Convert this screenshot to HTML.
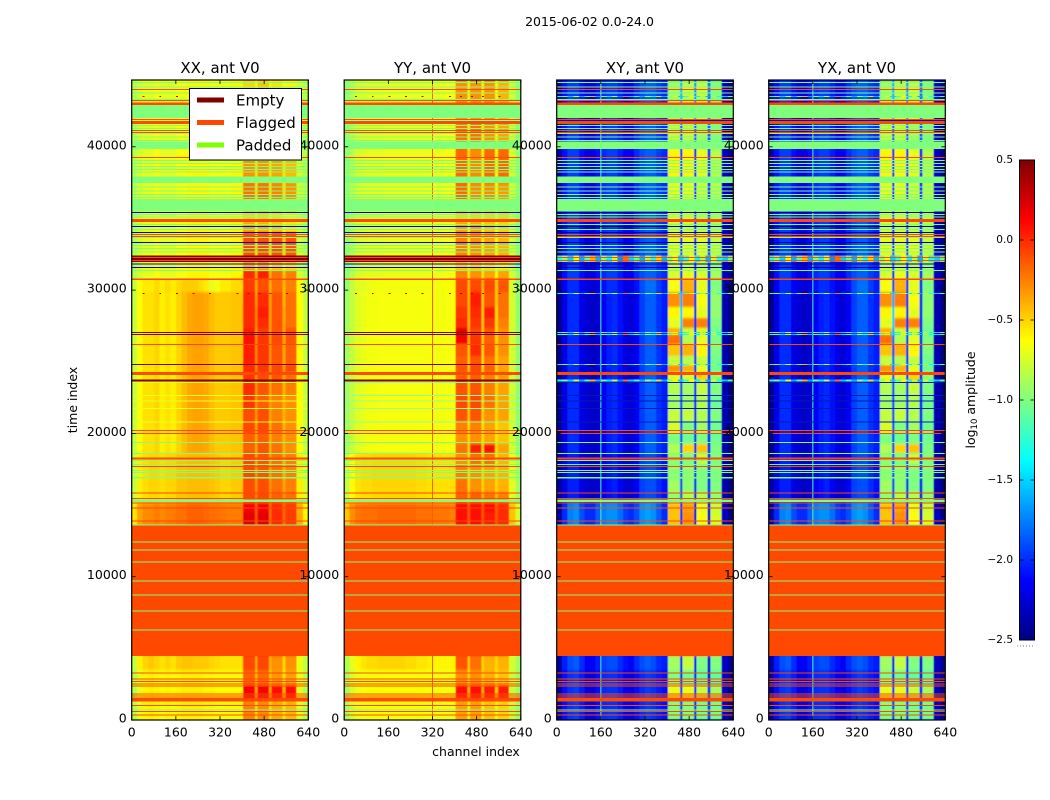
<!DOCTYPE html>
<html lang="en">
<head>
<meta charset="utf-8">
<title>2015-06-02 waterfall amplitude</title>
<style>
  html, body { margin: 0; padding: 0; background: #fff; }
  svg { display: block; }
  text { font-family: "DejaVu Sans", "Liberation Sans", sans-serif; fill: #000; }
</style>
</head>
<body>
<svg id="figure" xmlns="http://www.w3.org/2000/svg" width="1050" height="800" viewBox="0 0 1050 800">
  <defs>
    <filter id="soften" x="-5%" y="-5%" width="110%" height="110%">
      <feGaussianBlur stdDeviation="0.6 1.1"/>
    </filter>
  </defs>
  <rect width="1050" height="800" fill="#fff"/>
  <text x="589.5" y="26" font-size="12.5" text-anchor="middle">2015-06-02 0.0-24.0</text>
  <text x="476" y="756" font-size="12.5" text-anchor="middle">channel index</text>
  <text transform="translate(77 400) rotate(-90)" font-size="12.5" text-anchor="middle">time index</text>
  <g id="panels"></g>
  <g id="colorbar"></g>
  <text transform="translate(975 400) rotate(-90)" font-size="12.5" text-anchor="middle">log<tspan font-size="8.5" dy="2">10</tspan><tspan dy="-2"> amplitude</tspan></text>
  <line x1="1017" x2="1035" y1="646" y2="646" stroke="#777" stroke-width="1" stroke-dasharray="1 2"/>
  <g>
    <rect x="189.5" y="88.5" width="112" height="71.5" fill="#fff" stroke="#000" stroke-width="1"/>
    <line x1="197" x2="224" y1="100" y2="100" stroke="#800000" stroke-width="5"/>
    <text x="236" y="105.5" font-size="15">Empty</text>
    <line x1="197" x2="224" y1="122.5" y2="122.5" stroke="#ff4500" stroke-width="5"/>
    <text x="236" y="128" font-size="15">Flagged</text>
    <line x1="197" x2="224" y1="145" y2="145" stroke="#7fff00" stroke-width="5"/>
    <text x="236" y="150.5" font-size="15">Padded</text>
  </g>
</svg>
<script>
const xTickLabels = [0, 160, 320, 480, 640];
const yTickLabels = [0, 10000, 20000, 30000, 40000];
const colorbarTicks = [0.5, 0, -0.5, -1, -1.5, -2, -2.5];
const panelTitles = ['XX, ant V0', 'YY, ant V0', 'XY, ant V0', 'YX, ant V0'];

/* channel bin edges of the heatmap columns */
const channelEdges = [0,20,40,60,80,100,120,140,160,180,200,220,240,260,280,300,320,340,360,380,404,446,455,497,507,547,557,597,620,640];

/* time bin edges of the heatmap rows, top to bottom */
const timeEdges = [44660,43067,41600,40344,39856,37900,37483,36345,35458,34760,34062,32387,31968,31410,30782,29874,28827,28060,27362,26873,26245,25407,24779,24290,23523,22685,21778,20870,20033,19265,18637,17799,16752,15914,15147,14518,13576,4467,3490,2443,1396,0];

/* which broadband profile each time row uses */
const rowProfile = [0,0,0,0,0,0,0,0,0,0,0,0,0,0,1,2,2,2,2,2,2,2,2,2,2,2,2,2,2,2,3,3,3,3,4,4,5,5,6,6,6];

/* log10 amplitude: broadband profiles, 20 columns up to channel 404 then 2 columns above 597 */
const xxProfiles = [
  [-0.85,-0.75,-0.7,-0.7,-0.65,-0.7,-0.7,-0.7,-0.65,-0.65,-0.6,-0.6,-0.6,-0.6,-0.65,-0.65,-0.65,-0.65,-0.6,-0.6,-0.75,-0.85],
  [-0.8,-0.62,-0.57,-0.57,-0.52,-0.57,-0.52,-0.57,-0.52,-0.48,-0.48,-0.48,-0.52,-0.57,-0.7,-0.65,-0.57,-0.57,-0.52,-0.52,-0.62,-0.8],
  [-0.8,-0.62,-0.54,-0.54,-0.5,-0.58,-0.54,-0.58,-0.5,-0.43,-0.37,-0.35,-0.35,-0.37,-0.43,-0.47,-0.47,-0.47,-0.45,-0.45,-0.62,-0.8],
  [-0.8,-0.58,-0.53,-0.5,-0.5,-0.53,-0.5,-0.5,-0.45,-0.45,-0.43,-0.43,-0.43,-0.43,-0.45,-0.47,-0.5,-0.5,-0.47,-0.47,-0.58,-0.75],
  [-0.55,-0.35,-0.28,-0.28,-0.24,-0.28,-0.24,-0.24,-0.2,-0.2,-0.16,-0.16,-0.16,-0.18,-0.2,-0.2,-0.22,-0.24,-0.24,-0.24,-0.38,-0.6],
  [-0.8,-0.58,-0.5,-0.46,-0.5,-0.54,-0.5,-0.54,-0.47,-0.45,-0.45,-0.47,-0.47,-0.47,-0.5,-0.52,-0.54,-0.54,-0.54,-0.54,-0.67,-0.8],
  [-0.85,-0.68,-0.6,-0.58,-0.6,-0.62,-0.6,-0.62,-0.6,-0.58,-0.58,-0.58,-0.58,-0.6,-0.6,-0.62,-0.62,-0.62,-0.62,-0.62,-0.7,-0.85]
];
const yyProfiles = [
  [-0.95,-0.85,-0.75,-0.72,-0.7,-0.7,-0.7,-0.68,-0.68,-0.68,-0.68,-0.68,-0.68,-0.68,-0.68,-0.68,-0.68,-0.68,-0.65,-0.65,-0.75,-0.95],
  [-0.95,-0.8,-0.72,-0.7,-0.68,-0.66,-0.66,-0.66,-0.66,-0.66,-0.66,-0.66,-0.66,-0.66,-0.66,-0.66,-0.66,-0.66,-0.64,-0.64,-0.75,-0.95],
  [-0.9,-0.8,-0.72,-0.68,-0.66,-0.66,-0.65,-0.65,-0.65,-0.65,-0.65,-0.65,-0.65,-0.65,-0.65,-0.65,-0.66,-0.66,-0.65,-0.65,-0.75,-0.95],
  [-0.8,-0.62,-0.54,-0.52,-0.52,-0.5,-0.5,-0.5,-0.5,-0.5,-0.5,-0.5,-0.5,-0.52,-0.52,-0.54,-0.54,-0.54,-0.54,-0.54,-0.7,-0.9],
  [-0.45,-0.3,-0.22,-0.2,-0.2,-0.2,-0.18,-0.18,-0.18,-0.18,-0.18,-0.18,-0.18,-0.2,-0.2,-0.2,-0.22,-0.22,-0.22,-0.25,-0.45,-0.75],
  [-0.85,-0.7,-0.6,-0.55,-0.52,-0.52,-0.5,-0.5,-0.5,-0.5,-0.5,-0.52,-0.52,-0.55,-0.55,-0.58,-0.6,-0.6,-0.6,-0.6,-0.75,-0.9],
  [-0.9,-0.75,-0.68,-0.65,-0.64,-0.64,-0.63,-0.63,-0.63,-0.63,-0.63,-0.63,-0.63,-0.64,-0.64,-0.65,-0.66,-0.66,-0.66,-0.66,-0.78,-0.92]
];
const xyProfiles = [
  [-2.4,-2.1,-1.95,-1.95,-2.1,-2.2,-2.2,-2.1,-2.0,-1.95,-1.95,-2.05,-2.15,-2.15,-2.0,-1.9,-1.85,-1.85,-1.95,-2.0,-2.3,-2.45],
  [-2.45,-2.15,-2.0,-2.0,-2.15,-2.2,-2.25,-2.2,-2.1,-2.0,-2.0,-2.1,-2.2,-2.2,-2.1,-1.9,-1.8,-1.8,-1.95,-2.05,-2.35,-2.5],
  [-2.45,-2.2,-2.0,-2.0,-2.2,-2.25,-2.3,-2.25,-2.15,-2.05,-2.0,-2.1,-2.2,-2.25,-2.15,-1.95,-1.85,-1.85,-1.98,-2.05,-2.35,-2.5],
  [-2.4,-2.2,-2.05,-2.05,-2.2,-2.25,-2.3,-2.25,-2.15,-2.1,-2.05,-2.15,-2.25,-2.25,-2.15,-1.95,-1.9,-1.9,-2.0,-2.1,-2.35,-2.5],
  [-2.4,-2.0,-1.75,-1.7,-1.9,-2.0,-2.0,-1.85,-1.75,-1.7,-1.7,-1.8,-1.95,-2.0,-1.9,-1.7,-1.65,-1.7,-1.85,-2.0,-2.3,-2.5],
  [-2.4,-2.05,-1.9,-1.85,-2.0,-2.15,-2.15,-2.05,-1.95,-1.9,-1.9,-2.0,-2.1,-2.15,-2.0,-1.9,-1.85,-1.9,-2.0,-2.05,-2.3,-2.45],
  [-2.4,-2.1,-1.98,-1.95,-2.05,-2.2,-2.2,-2.1,-2.0,-1.98,-1.98,-2.05,-2.15,-2.2,-2.1,-2.0,-1.95,-1.98,-2.05,-2.1,-2.3,-2.45]
];
const yxProfiles = xyProfiles;

/* log10 amplitude in the seven channels 404-597 (four bands and three gaps) per time row */
const xxBands = [
  [-0.5,-0.62,-0.45,-0.62,-0.55,-0.65,-0.6],[-0.5,-0.62,-0.5,-0.62,-0.55,-0.65,-0.6],[-0.35,-0.6,-0.4,-0.6,-0.4,-0.6,-0.5],[-0.35,-0.6,-0.4,-0.6,-0.4,-0.6,-0.5],
  [-0.3,-0.55,-0.3,-0.55,-0.35,-0.55,-0.42],[-0.3,-0.55,-0.3,-0.55,-0.35,-0.55,-0.42],[-0.2,-0.55,-0.2,-0.55,-0.25,-0.55,-0.3],[-0.2,-0.55,-0.2,-0.55,-0.25,-0.55,-0.3],
  [-0.5,-0.7,-0.5,-0.7,-0.55,-0.7,-0.6],[-0.35,-0.6,-0.4,-0.6,-0.45,-0.65,-0.55],[-0.1,-0.5,-0.1,-0.5,-0.1,-0.5,-0.12],[-0.2,-0.5,-0.2,-0.5,-0.2,-0.5,-0.2],
  [-0.4,-0.6,-0.4,-0.6,-0.5,-0.65,-0.55],[0.0,-0.35,0.05,-0.4,-0.2,-0.45,-0.25],[-0.05,-0.35,-0.1,-0.4,-0.2,-0.4,-0.25],[0.0,-0.3,0.0,-0.35,-0.12,-0.4,-0.2],
  [0.0,-0.25,0.05,-0.35,-0.12,-0.35,-0.2],[0.0,-0.25,0.0,-0.35,-0.12,-0.35,-0.2],[0.05,-0.3,-0.05,-0.35,-0.12,-0.35,-0.12],[0.1,-0.25,-0.03,-0.3,-0.08,-0.35,-0.12],
  [0.05,-0.25,-0.03,-0.3,-0.12,-0.35,-0.15],[0.05,-0.25,-0.03,-0.3,-0.12,-0.35,-0.15],[0.0,-0.25,-0.03,-0.3,-0.08,-0.3,-0.08],[-0.03,-0.3,-0.08,-0.35,-0.12,-0.35,-0.2],
  [0.0,-0.3,-0.12,-0.35,-0.2,-0.4,-0.25],[-0.03,-0.3,-0.15,-0.35,-0.25,-0.4,-0.3],[-0.1,-0.3,-0.1,-0.35,-0.25,-0.4,-0.3],[-0.08,-0.35,-0.08,-0.4,-0.2,-0.4,-0.3],
  [-0.15,-0.35,-0.15,-0.4,-0.25,-0.4,-0.3],[-0.15,-0.35,-0.12,-0.4,-0.2,-0.4,-0.3],[-0.08,-0.35,-0.12,-0.35,-0.2,-0.4,-0.25],[-0.08,-0.3,-0.12,-0.35,-0.2,-0.4,-0.25],
  [-0.1,-0.3,-0.1,-0.3,-0.2,-0.35,-0.25],[-0.08,-0.25,-0.08,-0.3,-0.15,-0.3,-0.2],[0.15,-0.12,0.15,-0.18,0.0,-0.18,-0.05],[0.2,-0.12,0.2,-0.18,0.0,-0.18,-0.05],
  [0,0,0,0,0,0,0],[-0.08,-0.35,-0.08,-0.4,-0.3,-0.5,-0.3],[-0.15,-0.42,-0.18,-0.45,-0.32,-0.55,-0.35],[0.15,-0.35,0.15,-0.35,0.1,-0.4,0.1],[-0.25,-0.52,-0.28,-0.52,-0.38,-0.55,-0.42]
];
const yyBands = [
  [-0.3,-0.6,-0.3,-0.6,-0.3,-0.6,-0.4],[-0.3,-0.6,-0.3,-0.6,-0.3,-0.6,-0.4],[-0.2,-0.6,-0.2,-0.6,-0.3,-0.6,-0.35],[-0.2,-0.6,-0.2,-0.6,-0.3,-0.6,-0.35],
  [-0.18,-0.55,-0.28,-0.6,-0.18,-0.6,-0.18],[-0.18,-0.55,-0.28,-0.6,-0.18,-0.6,-0.18],[-0.18,-0.6,-0.28,-0.6,-0.28,-0.6,-0.32],[-0.18,-0.6,-0.28,-0.6,-0.28,-0.6,-0.32],
  [-0.5,-0.7,-0.5,-0.7,-0.5,-0.7,-0.5],[-0.35,-0.65,-0.35,-0.65,-0.45,-0.65,-0.5],[-0.25,-0.6,-0.3,-0.6,-0.35,-0.6,-0.4],[-0.3,-0.6,-0.3,-0.6,-0.3,-0.6,-0.3],
  [-0.5,-0.7,-0.5,-0.7,-0.55,-0.7,-0.6],[-0.25,-0.55,-0.3,-0.55,-0.35,-0.6,-0.35],[-0.08,-0.4,-0.08,-0.4,-0.08,-0.45,-0.12],[-0.08,-0.4,0.05,-0.45,-0.12,-0.45,-0.2],
  [-0.03,-0.4,0.0,-0.45,0.05,-0.5,-0.2],[0.0,-0.4,-0.03,-0.45,-0.03,-0.5,-0.25],[0.2,-0.35,-0.08,-0.45,-0.12,-0.5,-0.3],[0.15,-0.35,-0.03,-0.45,-0.15,-0.5,-0.3],
  [-0.12,-0.45,0.0,-0.5,-0.12,-0.5,-0.3],[-0.15,-0.45,-0.12,-0.5,-0.2,-0.5,-0.35],[-0.12,-0.45,-0.08,-0.5,-0.15,-0.5,-0.35],[-0.15,-0.45,-0.15,-0.5,-0.25,-0.5,-0.35],
  [-0.12,-0.45,-0.12,-0.5,-0.25,-0.5,-0.35],[-0.08,-0.45,-0.08,-0.5,-0.2,-0.5,-0.35],[-0.12,-0.45,-0.12,-0.5,-0.3,-0.5,-0.35],[-0.25,-0.5,-0.25,-0.55,-0.35,-0.55,-0.45],
  [-0.3,-0.5,-0.3,-0.55,-0.35,-0.55,-0.45],[-0.2,-0.5,0.05,-0.5,0.1,-0.5,-0.35],[-0.3,-0.5,-0.2,-0.5,-0.2,-0.55,-0.4],[-0.25,-0.5,-0.3,-0.5,-0.35,-0.5,-0.4],
  [-0.2,-0.5,-0.3,-0.5,-0.35,-0.5,-0.4],[-0.15,-0.4,-0.15,-0.4,-0.2,-0.4,-0.25],[0.1,-0.12,0.1,-0.12,0.1,-0.12,0.0],[0.1,-0.12,0.1,-0.12,0.05,-0.12,0.0],
  [0,0,0,0,0,0,0],[-0.12,-0.45,-0.2,-0.5,-0.4,-0.5,-0.4],[-0.3,-0.5,-0.3,-0.5,-0.4,-0.55,-0.45],[0.1,-0.4,0.08,-0.4,0.05,-0.45,0.05],[-0.35,-0.6,-0.35,-0.6,-0.45,-0.6,-0.5]
];
const xyBands = [
  [-0.9,-1.6,-0.8,-1.7,-0.8,-1.8,-1.0],[-0.9,-1.6,-0.8,-1.7,-0.8,-1.8,-1.0],[-0.8,-1.9,-0.8,-1.9,-0.9,-1.9,-1.0],[-0.8,-1.9,-0.8,-1.9,-0.9,-1.9,-1.0],
  [-0.6,-2.0,-0.6,-2.0,-0.7,-2.0,-0.85],[-0.6,-2.0,-0.6,-2.0,-0.7,-2.0,-0.85],[-0.7,-2.0,-0.7,-2.0,-0.8,-2.0,-0.85],[-0.7,-2.0,-0.7,-2.0,-0.8,-2.0,-0.85],
  [-0.7,-2.0,-0.7,-2.0,-0.8,-2.0,-0.85],[-0.8,-2.0,-0.8,-2.0,-0.85,-2.0,-0.9],[-0.7,-2.0,-0.7,-2.0,-0.7,-2.0,-0.8],[-1.0,-1.0,-0.9,-1.0,-0.9,-1.0,-1.0],
  [-0.8,-1.9,-0.8,-2.0,-0.85,-2.0,-0.95],[-0.75,-2.0,-0.7,-2.0,-0.75,-2.0,-0.9],[-0.65,-1.9,-0.4,-2.0,-0.7,-2.0,-1.0],[-0.3,-1.6,-0.25,-2.0,-0.65,-2.0,-0.95],
  [-0.6,-1.5,-0.6,-2.0,-0.7,-2.0,-0.95],[-0.7,-1.5,-0.25,-2.0,-0.25,-2.0,-1.0],[-0.4,-1.6,-0.8,-2.0,-0.75,-2.0,-1.05],[-0.2,-1.8,-0.85,-2.0,-0.7,-2.0,-1.0],
  [-0.45,-1.9,-0.4,-2.0,-0.6,-2.0,-1.0],[-0.8,-1.8,-0.85,-2.0,-0.8,-2.0,-1.05],[-0.3,-1.8,-0.4,-2.0,-0.7,-2.0,-1.05],[-0.7,-1.9,-0.75,-2.0,-0.5,-2.0,-0.95],
  [-0.85,-1.9,-0.9,-2.0,-0.8,-2.0,-1.0],[-0.9,-1.9,-0.9,-2.0,-0.85,-2.0,-1.05],[-0.8,-1.9,-0.8,-2.0,-0.85,-2.0,-1.0],[-0.75,-1.9,-1.0,-2.0,-0.9,-2.0,-1.05],
  [-1.0,-1.9,-1.05,-2.0,-1.0,-2.0,-1.05],[-0.85,-1.9,-0.5,-2.0,-0.45,-2.0,-1.0],[-0.95,-1.9,-1.0,-2.0,-0.8,-2.0,-1.0],[-0.95,-1.9,-0.95,-2.0,-1.0,-2.0,-1.0],
  [-0.9,-1.9,-0.95,-2.0,-1.0,-2.0,-1.0],[-0.95,-1.9,-0.85,-2.1,-0.85,-2.1,-0.95],[-0.45,-2.0,-0.35,-2.2,-0.7,-2.2,-0.8],[-0.45,-2.0,-0.3,-2.2,-0.65,-2.2,-0.75],
  [0,0,0,0,0,0,0],[-0.9,-2.1,-0.8,-2.1,-1.0,-2.2,-1.0],[-1.0,-2.1,-1.05,-2.1,-1.1,-2.2,-1.1],[-0.7,-2.0,-0.7,-2.0,-0.8,-2.0,-0.9],[-1.0,-2.0,-1.0,-2.0,-1.05,-2.0,-1.05]
];
const yxBands = xyBands;

/* flagged / padded / empty time ranges: [from, to, kind] */
const blockStripes = [
  [43088,42927,'F'],[42927,41999,'P'],[41950,41601,'F'],[40365,39856,'P'],[37922,37462,'P'],[36345,35479,'P'],
  [34970,34760,'F'],[32408,31968,'E'],[30817,30712,'F'],[24290,24081,'F'],[15391,15216,'P'],[13576,4467,'F'],[1557,1277,'F']
];
/* single-integration lines: [time, kind] */
const lineStripes = [
  [44511,'P'],[44204,'P'],[44023,'F'],[43786,'P'],[43555,'N'],[43325,'P'],[43276,'F'],[41880,'L'],
  [41531,'P'],[41301,'P'],[41182,'F'],[41042,'F'],[40952,'P'],[40714,'P'],[40484,'P'],
  [39276,'F'],[39088,'P'],[38858,'P'],[38669,'P'],[38439,'P'],[38271,'P'],
  [37224,'P'],[36945,'P'],[36715,'P'],[36484,'P'],
  [35437,'B'],[35298,'P'],[35130,'P'],[34600,'P'],[34481,'B'],[34251,'P'],[34041,'B'],[33923,'F'],[33783,'F'],
  [33692,'P'],[33343,'B'],[33155,'P'],[32925,'P'],[32687,'P'],[32317,'F'],[32087,'F'],[31864,'B'],[31619,'B'],[31410,'P'],
  [29784,'N'],[27061,'E'],[26922,'E'],[26224,'F'],[24828,'E'],[23753,'E'],[23690,'E'],[23592,'L'],[22664,'L'],[22287,'L'],
  [21757,'L'],[20821,'L'],[20221,'F'],[20033,'F'],[19383,'P'],[18616,'P'],[18309,'F'],[18240,'F'],[18127,'P'],[17848,'P'],
  [17708,'F'],[17450,'P'],[17310,'P'],[16940,'P'],[15893,'F'],[15475,'F'],[15195,'F'],[14846,'F'],[13939,'F'],[13660,'P'],
  [12473,'P'],[11915,'P'],[11077,'P'],[9751,'P'],[8774,'P'],[7657,'P'],[6331,'P'],
  [3329,'F'],[2911,'F'],[2722,'F'],[2562,'F'],[2394,'F'],[1864,'F'],[1696,'F'],[1047,'F'],[747,'P'],[628,'F'],[398,'F']
];
/* bad-integration amplitudes in 20-channel steps */
const noiseCross = [-1.3,-1.0,-1.5,-0.7,-1.6,-1.1,-0.4,-1.6,-1.0,-1.4,-0.8,-1.7,-0.2,-1.5,-1.1,-1.6,-0.9,-1.3,-0.5,-1.6,-1.0,-0.7,-1.5,-1.2,-0.6,-1.4,-0.9,-1.6,-0.8,-1.3,-1.5,-1.1];
const noiseParallel = [null,null,0.2,null,null,0.25,null,null,0.3,null,null,0.2,null,null,0.25,null,null,null,null,0.2,null,0.3,null,0.3,null,0.25,null,null,0.3,null,null,null];
/* flagged channels: one entry per panel, [channel, colour amplitude] or null */
const flaggedChannels = [null, [320, -0.15], [160, -1.15], [160, -1.15]];

const vMin = -2.5, vMax = 0.5;
const panelLefts = [131.7, 344.2, 556.7, 768.7];
const panelWidth = 176.6, axisTop = 80, axisBottom = 720;
const NS = 'http://www.w3.org/2000/svg';

function xScale(left, channel) { return left + channel * panelWidth / 640; }
function yScale(time) { return axisBottom - time * 0.01433; }
function clip01(v) { return Math.max(0, Math.min(1, v)); }
function jet(v) {
  const x = (v - vMin) / (vMax - vMin);
  const r = clip01(Math.min(4 * x - 1.5, -4 * x + 4.5));
  const g = clip01(Math.min(4 * x - 0.5, -4 * x + 3.5));
  const b = clip01(Math.min(4 * x + 0.5, -4 * x + 2.5));
  return 'rgb(' + Math.round(r * 255) + ',' + Math.round(g * 255) + ',' + Math.round(b * 255) + ')';
}
function make(tag, parent, attrs) {
  const el = document.createElementNS(NS, tag);
  for (const k in attrs) el.setAttribute(k, attrs[k]);
  parent.appendChild(el);
  return el;
}

const panelProfiles = [xxProfiles, yyProfiles, xyProfiles, yxProfiles];
const panelBands = [xxBands, yyBands, xyBands, yxBands];
const stripePalette = [
  { F: '#ff4800', P: '#7fff7c', E: '#800000', B: '#0000e0', L: '#e8ff20' },
  { F: '#ff4800', P: '#7fff7c', E: '#800000', B: '#0000e0', L: '#90ffa0' },
  { F: '#ff4800', P: '#7fff7c', B: '#000090', L: '#0018b8' },
  { F: '#ff4800', P: '#7fff7c', B: '#000090', L: '#0018b8' }
];
const panelFill = ['#e8ff10', '#e0ff18', '#0020c0', '#0020c0'];
const panelNames = ['xx', 'yy', 'xy', 'yx'];

const panelsRoot = document.getElementById('panels');
const defs = document.querySelector('defs');

function drawNoise(group, p, left, yTop, height) {
  const cross = p >= 2;
  const row = cross ? noiseCross : noiseParallel;
  row.forEach(function (v, i) {
    if (v === null) return;
    const cell = make('rect', group, {
      x: xScale(left, i * 20), y: yTop,
      width: panelWidth * (cross ? 20 : 7) / 640, height: height, fill: jet(v)
    });
    
    
  });
}

function drawStripe(group, p, left, tFrom, tTo, kind) {
  const yTop = yScale(tFrom);
  const height = Math.max(yScale(tTo) - yTop, 1);
  if (kind === 'N' || (kind === 'E' && p >= 2)) {
    if (kind === 'E' && height > 2) {
      const under = make('rect', group, { x: left, y: yTop, width: panelWidth, height: height, fill: '#40ffb0' });
      
      
    }
    drawNoise(group, p, left, yTop, height);
    return;
  }
  const s = make('rect', group, { x: left, y: yTop, width: panelWidth, height: height, fill: stripePalette[p][kind] });
  
  
}

panelTitles.forEach(function (title, p) {
  const left = panelLefts[p];
  const panel = make('g', panelsRoot, {});
  
  

  const clip = make('clipPath', defs, { id: 'clip' + p });
  make('rect', clip, { x: left, y: axisTop, width: panelWidth, height: axisBottom - axisTop });

  const plot = make('g', panel, { 'clip-path': 'url(#clip' + p + ')' });
  
  

  const bg = make('rect', plot, { x: left, y: axisTop, width: panelWidth, height: axisBottom - axisTop, fill: panelFill[p] });
  
  

  const heat = make('g', plot, { filter: 'url(#soften)', 'shape-rendering': 'crispEdges' });
  
  

  const frag = document.createDocumentFragment();
  for (let r = 0; r < timeEdges.length - 1; r++) {
    const profile = panelProfiles[p][rowProfile[r]];
    const bands = panelBands[p][r];
    const yTop = yScale(timeEdges[r]);
    const yBot = yScale(timeEdges[r + 1]);
    for (let c = 0; c < channelEdges.length - 1; c++) {
      const v = c < 20 ? profile[c] : (c < 27 ? bands[c - 20] : profile[c - 7]);
      const x0 = xScale(left, channelEdges[c]);
      const x1 = xScale(left, channelEdges[c + 1]);
      const cell = make('rect', frag, { x: x0, y: yTop, width: x1 - x0 + 0.3, height: yBot - yTop + 0.3, fill: jet(v) });
      
      
    }
  }
  heat.appendChild(frag);

  if (flaggedChannels[p]) {
    const vx = xScale(left, flaggedChannels[p][0]);
    const vl = make('line', plot, { x1: vx, x2: vx, y1: axisTop, y2: axisBottom, stroke: jet(flaggedChannels[p][1]), 'stroke-width': 1 });
    
    
  }

  const stripes = make('g', plot, { 'shape-rendering': 'crispEdges' });
  
  
  blockStripes.forEach(function (b) { drawStripe(stripes, p, left, b[0], b[1], b[2]); });
  lineStripes.forEach(function (l) { drawStripe(stripes, p, left, l[0], l[0] - 70, l[1]); });

  const frame = make('rect', panel, { x: left, y: axisTop, width: panelWidth, height: axisBottom - axisTop, fill: 'none', stroke: '#000', 'stroke-width': 1.2 });
  
  

  xTickLabels.forEach(function (t) {
    const x = xScale(left, t);
    const a = make('line', panel, { x1: x, x2: x, y1: axisBottom, y2: axisBottom - 4, stroke: '#000', 'stroke-width': 0.8 });
    
    
    const b = make('line', panel, { x1: x, x2: x, y1: axisTop, y2: axisTop + 4, stroke: '#000', 'stroke-width': 0.8 });
    
    
    const lab = make('text', panel, { x: x, y: 736.5, 'font-size': 12.5, 'text-anchor': 'middle' });
    lab.textContent = String(t);
    
    
  });
  yTickLabels.forEach(function (t) {
    const y = yScale(t);
    const a = make('line', panel, { x1: left, x2: left + 4, y1: y, y2: y, stroke: '#000', 'stroke-width': 0.8 });
    
    
    const b = make('line', panel, { x1: left + panelWidth, x2: left + panelWidth - 4, y1: y, y2: y, stroke: '#000', 'stroke-width': 0.8 });
    
    
    const lab = make('text', panel, { x: left - 5, y: y + 2.5, 'font-size': 12.5, 'text-anchor': 'end' });
    lab.textContent = String(t);
    
    
  });
  const ttl = make('text', panel, { x: left + panelWidth / 2, y: 73, 'font-size': 15, 'text-anchor': 'middle' });
  ttl.textContent = title;
  
  
});

/* colorbar */
const cbRoot = document.getElementById('colorbar');
const cbLeft = 1019.5, cbWidth = 15, cbTop = 160, cbBottom = 640;
function cbScale(v) { return cbBottom - (v - vMin) * (cbBottom - cbTop) / (vMax - vMin); }
const cbRamp = make('g', cbRoot, { 'shape-rendering': 'crispEdges' });


for (let i = 0; i < 240; i++) {
  const v0 = vMin + (vMax - vMin) * i / 240;
  const v1 = vMin + (vMax - vMin) * (i + 1) / 240;
  const seg = make('rect', cbRamp, { x: cbLeft, y: cbScale(v1), width: cbWidth, height: cbScale(v0) - cbScale(v1) + 0.5, fill: jet((v0 + v1) / 2) });
  
  
}
const cbFrame = make('rect', cbRoot, { x: cbLeft, y: cbTop, width: cbWidth, height: cbBottom - cbTop, fill: 'none', stroke: '#000', 'stroke-width': 1 });


colorbarTicks.forEach(function (t) {
  const y = cbScale(t);
  const a = make('line', cbRoot, { x1: cbLeft, x2: cbLeft + 4, y1: y, y2: y, stroke: '#000', 'stroke-width': 0.8 });
  
  
  const b = make('line', cbRoot, { x1: cbLeft + cbWidth, x2: cbLeft + cbWidth - 4, y1: y, y2: y, stroke: '#000', 'stroke-width': 0.8 });
  
  
  const lab = make('text', cbRoot, { x: 1013, y: y + 3, 'font-size': 10.5, 'text-anchor': 'end' });
  lab.textContent = t.toFixed(1).replace('-', '\u2212');
  
  
});
</script>
</body>
</html>
